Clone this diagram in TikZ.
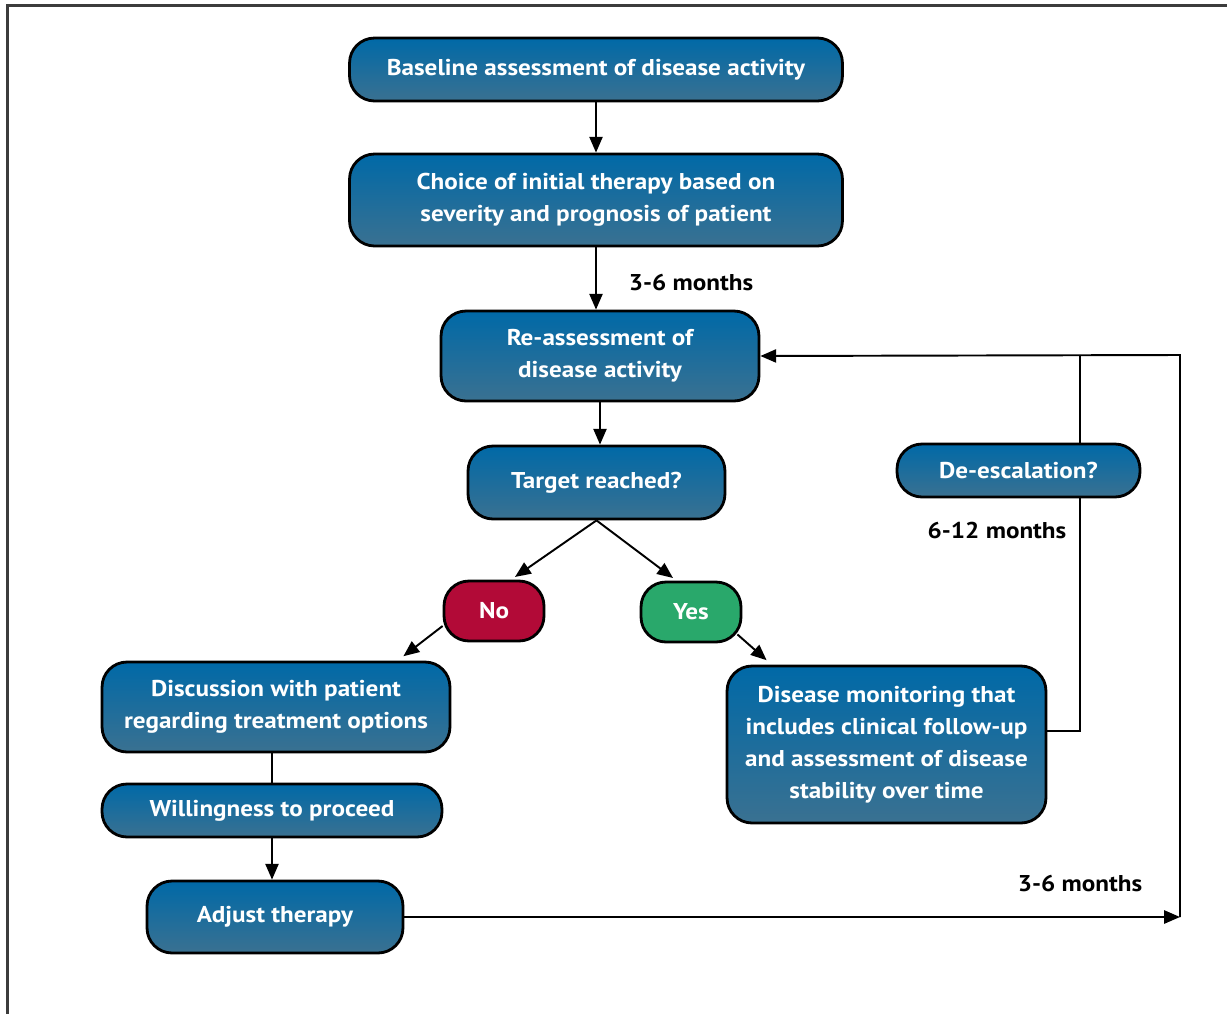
\documentclass[tikz,border=0pt]{standalone}
\usepackage{fontspec}
\setmainfont{PT Sans}[FakeStretch=1.1]
\usetikzlibrary{arrows.meta}

\definecolor{boxtop}{RGB}{0,105,167}
\definecolor{boxbot}{RGB}{58,113,145}
\definecolor{nored}{RGB}{178,10,55}
\definecolor{yesgreen}{RGB}{41,168,107}
\definecolor{framegray}{RGB}{60,60,60}

\tikzset{
  boxtext/.style={font=\bfseries\fontsize{13}{18.2}\selectfont},
  stepbox/.style={boxtext, draw=black, line width=1.6pt, rounded corners=0.5cm,
    top color=boxtop, bottom color=boxbot, text=white, align=center, inner sep=0pt},
  answer/.style={boxtext, draw=black, line width=1.6pt, rounded corners=0.5cm,
    fill=#1, text=white, align=center, inner sep=0pt,
    minimum width=2cm, minimum height=1.2cm},
  conn/.style={line width=1.1pt, -{Triangle[length=9pt,width=7.5pt]}},
  link/.style={line width=1.1pt},
  lbl/.style={boxtext, text=black}
}

\begin{document}
\begin{tikzpicture}[x=0.02cm,y=-0.02cm]
   \useasboundingbox (0,0) rectangle (1227,1014);
   \draw[framegray, line width=1.2pt] (7.5,1014) -- (7.5,5.5) -- (1227,5.5);

   \node[stepbox, minimum width=9.86cm, minimum height=1.26cm] (base) at (596,69.5)
        {Baseline assessment of disease activity};
   \node[stepbox, minimum width=9.86cm, minimum height=1.84cm] (choice) at (596,200)
        {Choice of initial therapy based on\\severity and prognosis of patient};
   \node[stepbox, minimum width=6.36cm, minimum height=1.8cm] (reassess) at (600,356)
        {Re-assessment of\\disease activity};
   \node[stepbox, minimum width=5.14cm, minimum height=1.46cm] (target) at (596.5,482.5)
        {Target reached?};
   \node[answer=nored] (no) at (494,611) {No};
   \node[answer=yesgreen] (yes) at (691,612) {Yes};
   \node[stepbox, minimum width=6.96cm, minimum height=1.8cm] (discuss) at (276,707)
        {Discussion with patient\\regarding treatment options};
   \node[stepbox, minimum width=6.8cm, minimum height=1.06cm] (willing) at (272,810.5)
        {Willingness to proceed};
   \node[stepbox, minimum width=5.12cm, minimum height=1.44cm] (adjust) at (275,917)
        {Adjust therapy};
   \node[stepbox, minimum width=6.38cm, minimum height=3.14cm] (monitor) at (886.5,744.5)
        {Disease monitoring that\\includes clinical follow-up\\and assessment of disease\\stability over time};

   \node[lbl] (lblA) at (691,283) {3-6 months};
   \node[lbl] (lblB) at (997,530) {6-12 months};
   \node[lbl] (lblC) at (1080,883) {3-6 months};

   \coordinate (cornerR) at (1180,917);
   \coordinate (cornerT) at (1180,355);
   \coordinate (joinT) at (1080,355);

   \draw[conn] (base.south) -- (choice.north);
   \draw[conn] (choice.south) -- (choice.south |- reassess.north);
   \draw[conn] (reassess.south) -- (reassess.south |- target.north);
   \draw[conn] (target.south) -- ([xshift=0.42cm,yshift=1.5pt]no.north);
   \draw[conn] (target.south) -- ([xshift=-0.36cm,yshift=1.5pt]yes.north);
   \draw[conn] ([yshift=-0.3cm]no.west) -- ([xshift=-0.96cm,yshift=2.5pt]discuss.north east);
   \draw[conn] ([xshift=-0.1cm,yshift=0.18cm]yes.south east) -- ([xshift=0.82cm,yshift=2.5pt]monitor.north west);
   \draw[link] (willing.north |- discuss.south) -- (willing.north);
   \draw[conn] (willing.south) -- (willing.south |- adjust.north);
   \draw[conn] (adjust.east) -- (cornerR);
   \draw[conn] (cornerR) -- (cornerT) -- (reassess.east);
   \draw[link] ([yshift=0.27cm]monitor.east) -| (joinT);

   \node[stepbox, minimum width=4.86cm, minimum height=1.06cm] (deesc) at (1018.5,470.5)
        {De-escalation?};
\end{tikzpicture}
\end{document}
